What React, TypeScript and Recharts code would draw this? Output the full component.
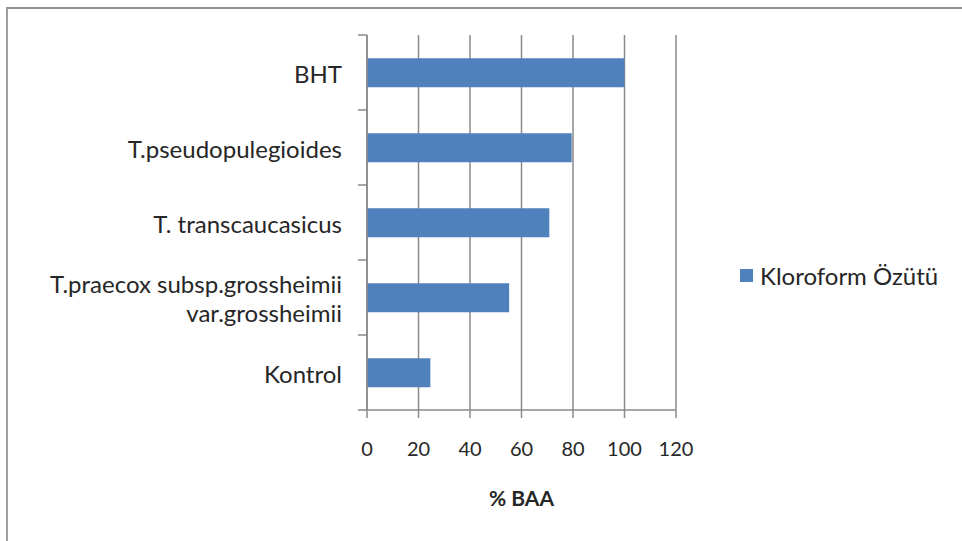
import React from 'react';
import { BarChart, Bar, XAxis, YAxis, CartesianGrid } from 'recharts';

const categories = [
  'BHT',
  'T.pseudopulegioides',
  'T. transcaucasicus',
  'T.praecox subsp.grossheimii\nvar.grossheimii',
  'Kontrol',
];
const kloroformValues = [100, 79.5, 70.8, 55.2, 24.6];
const xTicks = [0, 20, 40, 60, 80, 100, 120];
const seriesName = 'Kloroform Özütü';

const data = categories.map((name, i) => ({ name, value: kloroformValues[i] }));

const W = 962;
const H = 541;
const margin = { top: 35, right: 286, bottom: 31, left: 0 };
const yAxisWidth = 367;
const xAxisHeight = 100;
const plotHeight = H - margin.top - margin.bottom - xAxisHeight;
const band = plotHeight / categories.length;

const FONT = 'Lato, "Open Sans", sans-serif';
const TEXT = '#262626';
const GRID = '#8a8a8a';
const BLUE = '#4F81BD';

function CategoryTick(props: any) {
  const { y, payload, index } = props;
  const ax = yAxisWidth; // axis line x
  const lines = String(payload.value).split('\n');
  const lh = 29;
  const startY = y - ((lines.length - 1) * lh) / 2;
  return (
    <g>
      <line x1={ax - 9} x2={ax} y1={y - band / 2} y2={y - band / 2} stroke={GRID} strokeWidth={1.5} />
      {index === categories.length - 1 && (
        <line x1={ax - 9} x2={ax} y1={y + band / 2} y2={y + band / 2} stroke={GRID} strokeWidth={1.5} />
      )}
      <text x={ax - 25} y={startY} textAnchor="end" dominantBaseline="central" fill={TEXT} fontSize={24} fontFamily={FONT}>
        {lines.map((l, i) => (
          <tspan key={i} x={ax - 25} dy={i === 0 ? 0 : lh}>
            {l}
          </tspan>
        ))}
      </text>
    </g>
  );
}

export default function App() {
  return (
    <div style={{ position: 'absolute', left: 0, top: 0, width: W, height: H, background: '#fff', overflow: 'hidden' }}>
      <div
        style={{
          position: 'absolute',
          left: 6,
          top: 7,
          width: W,
          height: H,
          borderTop: '2px solid #8f8f8f',
          borderLeft: '2px solid #a0a0a0',
        }}
      />
      <div style={{ position: 'absolute', left: 0, top: 0 }}>
        <BarChart width={W} height={H} data={data} layout="vertical" margin={margin} barCategoryGap="31%">
          <CartesianGrid horizontal={false} stroke={GRID} strokeWidth={1.5} />
          <XAxis
            type="number"
            domain={[0, 120]}
            ticks={xTicks}
            height={xAxisHeight}
            axisLine={{ stroke: GRID, strokeWidth: 1.5 }}
            tickLine={{ stroke: GRID, strokeWidth: 1.5 }}
            tickSize={8}
            tickMargin={24}
            tick={{ fill: TEXT, fontSize: 20, fontFamily: FONT }}
            label={{
              value: '% BAA',
              position: 'insideBottom',
              offset: 4,
              fill: TEXT,
              fontSize: 21,
              fontWeight: 'bold',
              fontFamily: FONT,
            }}
          />
          <YAxis
            type="category"
            dataKey="name"
            width={yAxisWidth}
            axisLine={{ stroke: GRID, strokeWidth: 1.5 }}
            tickLine={false}
            interval={0}
            tick={<CategoryTick />}
          />
          <Bar dataKey="value" name={seriesName} fill={BLUE} isAnimationActive={false} />
        </BarChart>
      </div>
      <div
        style={{
          position: 'absolute',
          left: 740,
          top: 261,
          display: 'flex',
          alignItems: 'center',
          fontFamily: FONT,
          fontSize: 24,
          color: TEXT,
        }}
      >
        <span style={{ display: 'inline-block', width: 13, height: 13, background: BLUE, marginRight: 7 }} />
        <span>{seriesName}</span>
      </div>
    </div>
  );
}
